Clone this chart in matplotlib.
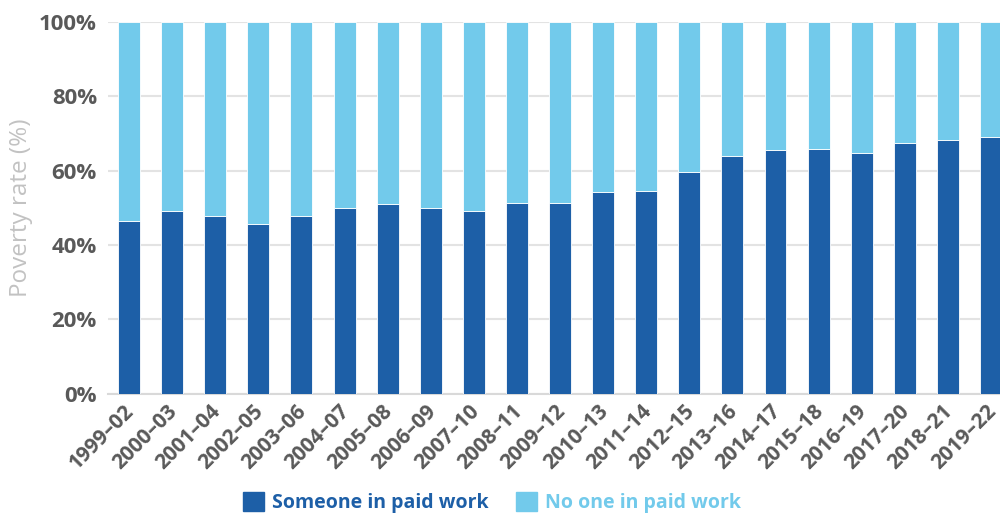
import matplotlib.pyplot as plt
import matplotlib.transforms as mtransforms
import numpy as np
from matplotlib.patches import Patch

plt.rcParams["font.family"] = ["Open Sans", "DejaVu Sans"]

periods = [
    "1999–02", "2000–03", "2001–04", "2002–05", "2003–06", "2004–07",
    "2005–08", "2006–09", "2007–10", "2008–11", "2009–12", "2010–13",
    "2011–14", "2012–15", "2013–16", "2014–17", "2015–18", "2016–19",
    "2017–20", "2018–21", "2019–22",
]
# share of people in poverty living in a family where someone works (%)
someone_working = [
    46.5, 49.0, 47.7, 45.7, 47.9, 49.8, 51.0, 49.8, 49.0, 51.3, 51.3,
    54.3, 54.6, 59.5, 63.8, 65.4, 65.7, 64.6, 67.5, 68.1, 68.9,
]
no_one_working = [100 - v for v in someone_working]

DARK = "#1d5fa7"
LIGHT = "#72caeb"
TICK_GREY = "#595959"

fig = plt.figure(figsize=(10, 5.2), dpi=100)
ax = fig.add_axes([0.108, 0.243, 0.892, 0.715])

x = np.arange(len(periods))
bar_kw = dict(width=0.51, edgecolor="#ffffff", linewidth=0.6, zorder=3)
ax.bar(x, someone_working, color=DARK, **bar_kw)
ax.bar(x, no_one_working, bottom=someone_working, color=LIGHT, **bar_kw)

ax.set_xlim(-0.49, 20.21)
ax.set_ylim(0, 100)
ax.set_yticks(range(0, 101, 20))
ax.set_yticklabels([f"{v}%" for v in range(0, 101, 20)])
ax.grid(axis="y", color="#e3e3e3", linewidth=1.5, zorder=0)
ax.set_axisbelow(True)

for side in ("top", "right", "left"):
    ax.spines[side].set_visible(False)
ax.spines["bottom"].set_color("#d9d9d9")
ax.spines["bottom"].set_linewidth(1.5)
ax.tick_params(axis="both", length=0, colors=TICK_GREY)
ax.tick_params(axis="y", labelsize=16, pad=8)
ax.tick_params(axis="x", pad=5)

ax.set_xticks(x)
ax.set_xticklabels(periods, rotation=45, ha="right", rotation_mode="anchor",
                   fontsize=15, fontweight="bold", color=TICK_GREY)
# nudge the rotated labels a little left so the last one stays on the canvas
shift = mtransforms.ScaledTranslation(-4 / 72, 0, fig.dpi_scale_trans)
for lbl in ax.get_xticklabels():
    lbl.set_transform(lbl.get_transform() + shift)
for lbl in ax.get_yticklabels():
    lbl.set_fontweight("bold")

ax.set_ylabel("Poverty rate (%)", fontsize=17.5, color="#c2c2c2", labelpad=4)

handles = [Patch(color=DARK), Patch(color=LIGHT)]
leg = fig.legend(handles, ["Someone in paid work", "No one in paid work"],
                 loc="center", bbox_to_anchor=(0.492, 0.033), ncol=2,
                 frameon=False, prop={"size": 14, "weight": "bold"},
                 handlelength=1.1, handleheight=1.1, handletextpad=0.4,
                 columnspacing=1.4)
for txt, col in zip(leg.get_texts(), [DARK, LIGHT]):
    txt.set_color(col)

fig.savefig("out.png", dpi=100)
